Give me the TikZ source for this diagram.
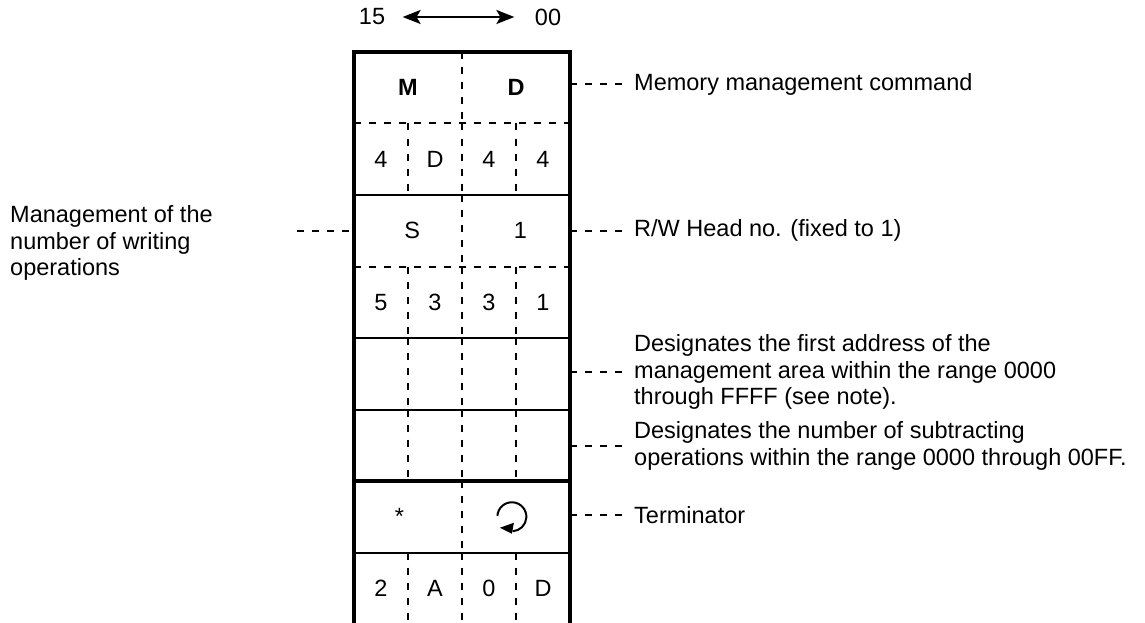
\documentclass[tikz,border=0pt]{standalone}
\usepackage{fontspec}
\setmainfont{Liberation Sans}
\usetikzlibrary{arrows.meta,positioning,calc}

\begin{document}
\begin{tikzpicture}[
    x=1pt, y=-1pt,
    font=\fontsize{23.5}{26.5}\selectfont,
    field/.style={
        minimum width=216pt,
        minimum height=71.5pt,
        inner sep=0pt,
        outer sep=0pt
    },
    hexcell/.style={inner sep=0pt},
    note/.style={
        anchor=west,
        align=left,
        inner xsep=10pt,
        inner ysep=0pt
    },
    outline/.style={line width=4pt},
    rule/.style={line width=2pt},
    thickrule/.style={line width=3.5pt},
    divider/.style={line width=2pt, dash pattern=on 7pt off 8pt},
    leader/.style={line width=1.6pt, dash pattern=on 7pt off 8pt},
    arrow/.style={{Stealth[length=18pt,width=14pt,inset=4pt]}-{Stealth[length=18pt,width=14pt,inset=4pt]}, line width=2pt}
]
\useasboundingbox (0,0) rectangle (1145,623);

% Bit order
\node (msb) at (372,17) {15};
\node (lsb) at (548,17) {00};
\draw[arrow, shorten <=14pt, shorten >=17pt] (msb) -- (lsb);

% Frame rows
\node[field] (cmd) at (462,87.75) {};
\node[field, below=0pt of cmd] (cmdhex) {};
\node[field, below=0pt of cmdhex] (head) {};
\node[field, below=0pt of head] (headhex) {};
\node[field, below=0pt of headhex] (addr) {};
\node[field, below=0pt of addr] (count) {};
\node[field, below=0pt of count] (term) {};
\node[field, below=0pt of term] (termhex) {};

% Row separators and column dividers
\foreach \r/\s in {cmd/divider, cmdhex/rule, head/divider, headhex/rule,
                   addr/rule, count/thickrule, term/rule}
  \draw[\s] (\r.south west) -- (\r.south east);
\foreach \r in {cmd, head, term}
  \draw[divider] (\r.north) -- (\r.south);
\foreach \r in {cmdhex, headhex, addr, count, termhex}
  \foreach \f in {0.25,0.5,0.75}
    \draw[divider] ($(\r.north west)!\f!(\r.north east)$) -- ($(\r.south west)!\f!(\r.south east)$);

% Contents
\node[hexcell] (cmd-m) at ($(cmd.west)!0.25!(cmd.east)$) {\bfseries M};
\node[hexcell] (cmd-d) at ($(cmd.west)!0.75!(cmd.east)$) {\bfseries D};
\node[hexcell] (head-s) at ($(head.west)!0.27!(head.east)$) {S};
\node[hexcell] (head-1) at ($(head.west)!0.77!(head.east)$) {1};
\node[hexcell] (term-star) at ($(term.west)!0.21!(term.east)$) {*};
\foreach \r/\a/\b/\c/\d in {cmdhex/4/D/4/4, headhex/5/3/3/1, termhex/2/A/0/D} {
  \node[hexcell] (\r-1) at ($(\r.west)!0.125!(\r.east)$) {\a};
  \node[hexcell] (\r-2) at ($(\r.west)!0.375!(\r.east)$) {\b};
  \node[hexcell] (\r-3) at ($(\r.west)!0.625!(\r.east)$) {\c};
  \node[hexcell] (\r-4) at ($(\r.west)!0.875!(\r.east)$) {\d};
}
% carriage return mark
\coordinate (crmark) at ($(term.west)!0.731!(term.east)$);
\draw[rule] (crmark) ++(-14.5,-1) arc[start angle=184, end angle=447, radius=14.5];
\fill (crmark) ++(-12,11) -- ++(14,-5) -- ++(-2,11) -- cycle;

\draw[outline] (termhex.south west) -- (cmd.north west) -- (cmd.north east) -- (termhex.south east);

% Notes
\node[note] (lcmd) at (624,84) {Memory management command};
\node[note] (lhead) at (624,230.75) {R/W Head no. (fixed to 1)};
\node[note] (laddr) at (624,372) {Designates the first address of the\\management area within the range 0000\\through FFFF (see note).};
\node[note] (lcount) at (624,446) {Designates the number of subtracting\\operations within the range 0000 through 00FF.};
\node[note] (lterm) at (624,515) {Terminator};
\node[note, inner xsep=0pt] (lwrite) at (10,243) {Management of the\\number of writing\\operations};

\foreach \r/\l in {cmd/lcmd, head/lhead, addr/laddr, count/lcount, term/lterm}
  \draw[leader] (\r.east |- \l.west) -- (\l.west);
\coordinate[left=57pt of head] (wend);
\draw[leader] (wend) -- (head.west);

\end{tikzpicture}
\end{document}
